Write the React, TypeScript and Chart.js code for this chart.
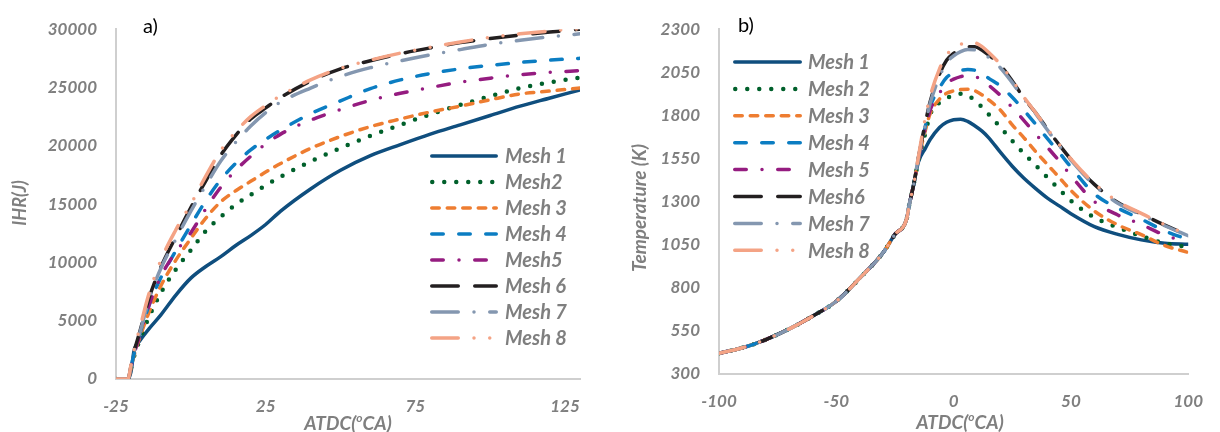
import React, { useEffect, useRef } from "react";
import { Chart, registerables } from "chart.js";

Chart.register(...registerables);

// ---------- data ----------
const seriesNamesA = ["Mesh 1", "Mesh2", "Mesh 3", "Mesh 4", "Mesh5", "Mesh 6", "Mesh 7", "Mesh 8"];
const seriesNamesB = ["Mesh 1", "Mesh 2", "Mesh 3", "Mesh 4", "Mesh 5", "Mesh6", "Mesh 7", "Mesh 8"];

const ihrAngles = [-25, -21, -20, -19, -17, -14, -10, -5, 0, 5, 10, 15, 20, 25, 30, 40, 50, 60, 70, 80, 90, 100, 110, 120, 130];
const ihrMesh1 = [0, 0, 600, 2400, 3300, 4300, 5500, 7200, 8650, 9650, 10500, 11450, 12300, 13250, 14400, 16300, 17900, 19150, 20100, 21000, 21800, 22600, 23400, 24100, 24800];
const ihrMesh2 = [0, 0, 900, 1900, 3400, 5300, 7400, 9400, 11050, 12700, 13900, 14950, 15800, 16600, 17350, 18650, 19800, 20850, 21800, 22700, 23500, 24250, 24950, 25450, 25850];
const ihrMesh3 = [0, 0, 900, 2000, 3600, 5700, 8000, 10200, 12050, 13800, 15200, 16150, 16950, 17750, 18480, 19780, 20800, 21650, 22300, 22900, 23400, 23950, 24450, 24700, 24950];
const ihrMesh4 = [0, 0, 1000, 2100, 3900, 6300, 8700, 11000, 13200, 15300, 17100, 18500, 19650, 20550, 21350, 22750, 23850, 24900, 25650, 26200, 26600, 26900, 27150, 27350, 27500];
const ihrMesh5 = [0, 0, 950, 2050, 3800, 6300, 8800, 10900, 12550, 14600, 16450, 17900, 19100, 20150, 21000, 22200, 23100, 23900, 24500, 25000, 25450, 25800, 26100, 26300, 26450];
const ihrMesh6 = [0, 0, 1100, 2300, 4100, 6900, 9600, 12200, 14700, 17000, 19200, 20900, 22300, 23250, 24150, 25550, 26600, 27300, 27900, 28400, 28850, 29200, 29500, 29750, 30000];
const ihrMesh7 = [0, 0, 1050, 2250, 4000, 6800, 9500, 12000, 14400, 16600, 18700, 20300, 21700, 22850, 23750, 24950, 25950, 26700, 27280, 27800, 28250, 28700, 29050, 29350, 29600];
const ihrMesh8 = [0, 0, 1200, 2500, 4400, 7300, 10200, 12800, 15000, 17400, 19600, 21200, 22500, 23450, 24300, 25650, 26650, 27350, 27950, 28450, 28900, 29300, 29600, 29850, 30050];

const tempAngles = [-100, -90, -80, -70, -60, -50, -40, -30, -25, -20, -19, -17, -15, -12, -10, -6, -3, 0, 3, 6, 9, 12, 15, 20, 25, 30, 35, 40, 45, 50, 60, 70, 80, 90, 100];
const tempCompression = [420, 452, 500, 562, 636, 722, 856, 1005, 1110, 1200, 1275, 1400];
const tempMesh1 = [...tempCompression, 1530, 1610, 1660, 1730, 1760, 1775, 1778, 1765, 1740, 1710, 1670, 1585, 1505, 1435, 1375, 1320, 1275, 1230, 1155, 1110, 1078, 1058, 1052];
const tempMesh2 = [...tempCompression, 1540, 1700, 1805, 1875, 1900, 1915, 1925, 1918, 1885, 1850, 1806, 1730, 1652, 1578, 1510, 1440, 1372, 1305, 1208, 1150, 1100, 1058, 1038];
const tempMesh3 = [...tempCompression, 1545, 1715, 1810, 1895, 1928, 1942, 1950, 1952, 1943, 1920, 1890, 1830, 1745, 1670, 1590, 1515, 1440, 1365, 1245, 1165, 1108, 1045, 1005];
const tempMesh4 = [...tempCompression, 1550, 1740, 1850, 1960, 2020, 2045, 2060, 2066, 2062, 2045, 2015, 1970, 1905, 1830, 1748, 1665, 1585, 1500, 1345, 1262, 1198, 1130, 1080];
const tempMesh5 = [...tempCompression, 1548, 1725, 1830, 1930, 1985, 2010, 2025, 2030, 2026, 2005, 1975, 1915, 1845, 1770, 1690, 1615, 1535, 1450, 1300, 1222, 1168, 1105, 1065];
const tempMesh6 = [...tempCompression, 1555, 1760, 1880, 2040, 2120, 2160, 2185, 2198, 2198, 2180, 2150, 2090, 2000, 1900, 1815, 1720, 1630, 1545, 1400, 1295, 1228, 1163, 1105];
const tempMesh7 = [...tempCompression, 1555, 1750, 1870, 2025, 2105, 2145, 2170, 2182, 2180, 2165, 2135, 2075, 1990, 1895, 1810, 1715, 1625, 1540, 1395, 1290, 1223, 1160, 1102];
const tempMesh8 = [...tempCompression, 1560, 1790, 1910, 2070, 2150, 2190, 2212, 2225, 2222, 2200, 2165, 2095, 2005, 1905, 1815, 1722, 1632, 1548, 1405, 1300, 1232, 1166, 1107];

const ihrTicksX = [-25, 25, 75, 125];
const ihrTicksY = [0, 5000, 10000, 15000, 20000, 25000, 30000];
const tempTicksX = [-100, -50, 0, 50, 100];
const tempTicksY = [300, 550, 800, 1050, 1300, 1550, 1800, 2050, 2300];

const ihrSeries = [ihrMesh1, ihrMesh2, ihrMesh3, ihrMesh4, ihrMesh5, ihrMesh6, ihrMesh7, ihrMesh8];
const tempSeries = [tempMesh1, tempMesh2, tempMesh3, tempMesh4, tempMesh5, tempMesh6, tempMesh7, tempMesh8];

// ---------- styles ----------
const lineStyles = [
  { color: "#0f4e7e", dash: [], width: 3.5 },
  { color: "#00602b", dash: [0, 12], width: 4.5 },
  { color: "#ee7d31", dash: [7.5, 8], width: 3.5 },
  { color: "#0b7dc2", dash: [11.5, 15.5], width: 3.5 },
  { color: "#951c80", dash: [11.5, 15.75, 0, 15.75], width: 3.5 },
  { color: "#231f20", dash: [26.5, 16.5], width: 3.5 },
  { color: "#8497b0", dash: [26.5, 15.75, 0, 15.75], width: 3.5 },
  { color: "#f4a385", dash: [26.5, 15.75, 0, 15.75, 0, 15.75], width: 3.5 },
];

const FAMILY = "Lato, 'Open Sans', 'DejaVu Sans', sans-serif";
const GRAY = "#7f7f7f";
const tickFont = { family: FAMILY, size: 17, weight: "bold" as const, style: "italic" as const };

// ---------- plugins ----------
const meshLegend = {
  id: "meshLegend",
  afterDatasetsDraw(chart: any, _args: any, opts: any) {
    if (!opts || opts.x === undefined) return;
    const ctx = chart.ctx;
    ctx.save();
    chart.data.datasets.forEach((ds: any, i: number) => {
      const y = opts.y + i * opts.spacing;
      const half = ds.borderWidth / 2;
      ctx.beginPath();
      ctx.setLineDash(ds.borderDash || []);
      ctx.lineDashOffset = 0;
      ctx.lineCap = "round";
      ctx.lineWidth = ds.borderWidth;
      ctx.strokeStyle = ds.borderColor;
      ctx.moveTo(opts.x + half, y);
      ctx.lineTo(opts.x + opts.lineLength - half, y);
      ctx.stroke();
      ctx.setLineDash([]);
      ctx.fillStyle = GRAY;
      ctx.font = `italic bold ${opts.fontSize}px ${FAMILY}`;
      ctx.textBaseline = "middle";
      ctx.textAlign = "left";
      ctx.fillText(ds.label, opts.x + opts.lineLength + opts.gap, y + 1);
    });
    ctx.restore();
  },
};

const panelText = {
  id: "panelText",
  afterDraw(chart: any, _args: any, opts: any) {
    if (!opts) return;
    const ctx = chart.ctx;
    ctx.save();
    if (opts.label) {
      ctx.fillStyle = "#000";
      ctx.font = `20px ${FAMILY}`;
      ctx.textBaseline = "middle";
      ctx.textAlign = "left";
      ctx.fillText(opts.label.text, opts.label.x, opts.label.y);
    }
    if (opts.yTitle) {
      const t = opts.yTitle;
      ctx.save();
      ctx.translate(t.x, t.y);
      ctx.rotate(-Math.PI / 2);
      ctx.fillStyle = GRAY;
      ctx.font = `italic bold ${t.size}px ${FAMILY}`;
      ctx.textAlign = "center";
      ctx.textBaseline = "middle";
      ctx.fillText(t.text, 0, 0);
      ctx.restore();
    }
    if (opts.xTitle) {
      const t = opts.xTitle;
      const big = `italic bold ${t.size}px ${FAMILY}`;
      const small = `italic bold ${Math.round(t.size * 0.62)}px ${FAMILY}`;
      ctx.font = big;
      const w1 = ctx.measureText(t.before).width;
      const w3 = ctx.measureText(t.after).width;
      ctx.font = small;
      const w2 = ctx.measureText(t.sup).width;
      let x = t.x - (w1 + w2 + w3) / 2;
      ctx.fillStyle = GRAY;
      ctx.textAlign = "left";
      ctx.textBaseline = "alphabetic";
      const base = t.y + t.size * 0.35;
      ctx.font = big;
      ctx.fillText(t.before, x, base);
      x += w1;
      ctx.font = small;
      ctx.fillText(t.sup, x, base - t.size * 0.38);
      x += w2;
      ctx.font = big;
      ctx.fillText(t.after, x, base);
    }
    ctx.restore();
  },
};

function buildDatasets(names: string[], xs: number[], series: number[][]) {
  return series.map((vals, i) => ({
    label: names[i],
    data: xs.map((x, j) => ({ x, y: vals[j] })),
    borderColor: lineStyles[i].color,
    backgroundColor: lineStyles[i].color,
    borderWidth: lineStyles[i].width,
    borderDash: lineStyles[i].dash,
    borderCapStyle: "round",
    borderJoinStyle: "round",
    pointRadius: 0,
    fill: false,
    cubicInterpolationMode: "monotone",
    order: series.length - i,
  }));
}

interface PanelCfg {
  names: string[];
  xs: number[];
  series: number[][];
  xMin: number;
  xMax: number;
  yMin: number;
  yMax: number;
  xTicks: number[];
  yTicks: number[];
  yAxisWidth: number;
  padding: { left: number; right: number; top: number; bottom: number };
  xAxisHeight: number;
  legend: any;
  text: any;
}

function makeConfig(c: PanelCfg): any {
  return {
    type: "line",
    data: { datasets: buildDatasets(c.names, c.xs, c.series) },
    plugins: [meshLegend, panelText],
    options: {
      animation: false,
      responsive: false,
      events: [],
      layout: { padding: c.padding },
      plugins: {
        legend: { display: false },
        tooltip: { enabled: false },
        meshLegend: c.legend,
        panelText: c.text,
      },
      scales: {
        x: {
          type: "linear",
          min: c.xMin,
          max: c.xMax,
          afterBuildTicks: (s: any) => {
            s.ticks = c.xTicks.map((v) => ({ value: v }));
          },
          afterFit: (s: any) => {
            s.height = c.xAxisHeight;
          },
          grid: { display: false, drawTicks: false },
          border: { display: true, color: "#cfcfcf", width: 2 },
          ticks: { padding: 17, color: GRAY, font: tickFont, maxRotation: 0, autoSkip: false },
        },
        y: {
          type: "linear",
          min: c.yMin,
          max: c.yMax,
          afterBuildTicks: (s: any) => {
            s.ticks = c.yTicks.map((v) => ({ value: v }));
          },
          afterFit: (s: any) => {
            s.width = c.yAxisWidth;
          },
          grid: { display: false, drawTicks: false },
          border: { display: true, color: "#cfcfcf", width: 2 },
          ticks: { padding: 19, color: GRAY, font: tickFont, autoSkip: false, callback: (v: any) => String(v) },
        },
      },
    },
  };
}

function Panel({ cfg, width, height, left }: { cfg: PanelCfg; width: number; height: number; left: number }) {
  const ref = useRef<HTMLCanvasElement | null>(null);
  useEffect(() => {
    if (!ref.current) return;
    const chart = new Chart(ref.current, makeConfig(cfg));
    return () => chart.destroy();
  }, []);
  return (
    <div style={{ position: "absolute", left, top: 0, width, height }}>
      <canvas ref={ref} width={width} height={height} style={{ display: "block", width, height }} />
    </div>
  );
}

const cfgA: PanelCfg = {
  names: seriesNamesA,
  xs: ihrAngles,
  series: ihrSeries,
  xMin: -25,
  xMax: 130,
  yMin: 0,
  yMax: 30000,
  xTicks: ihrTicksX,
  yTicks: ihrTicksY,
  yAxisWidth: 116,
  padding: { left: 0, right: 20, top: 20, bottom: 0 },
  xAxisHeight: 53,
  legend: { x: 430, y: 156, spacing: 26, lineLength: 68, gap: 7, fontSize: 20 },
  text: {
    label: { text: "a)", x: 143, y: 27 },
    yTitle: { text: "IHR(J)", x: 20, y: 203, size: 18 },
    xTitle: { before: "ATDC(", sup: "o", after: "CA)", x: 348, y: 423, size: 19 },
  },
};

const cfgB: PanelCfg = {
  names: seriesNamesB,
  xs: tempAngles,
  series: tempSeries,
  xMin: -100,
  xMax: 100,
  yMin: 300,
  yMax: 2300,
  xTicks: tempTicksX,
  yTicks: tempTicksY,
  yAxisWidth: 109,
  padding: { left: 0, right: 17, top: 25, bottom: 0 },
  xAxisHeight: 58,
  legend: { x: 123, y: 62, spacing: 26.9, lineLength: 69, gap: 6, fontSize: 20 },
  text: {
    label: { text: "b)", x: 128, y: 26 },
    yTitle: { text: "Temperature (K)", x: 30, y: 208, size: 19 },
    xTitle: { before: "ATDC(", sup: "o", after: "CA)", x: 350, y: 422, size: 19 },
  },
};

export default function App() {
  return (
    <div style={{ position: "absolute", left: 0, top: 0, width: 1220, height: 432, background: "#ffffff", overflow: "hidden" }}>
      <Panel cfg={cfgA} width={600} height={432} left={0} />
      <Panel cfg={cfgB} width={610} height={432} left={610} />
    </div>
  );
}
